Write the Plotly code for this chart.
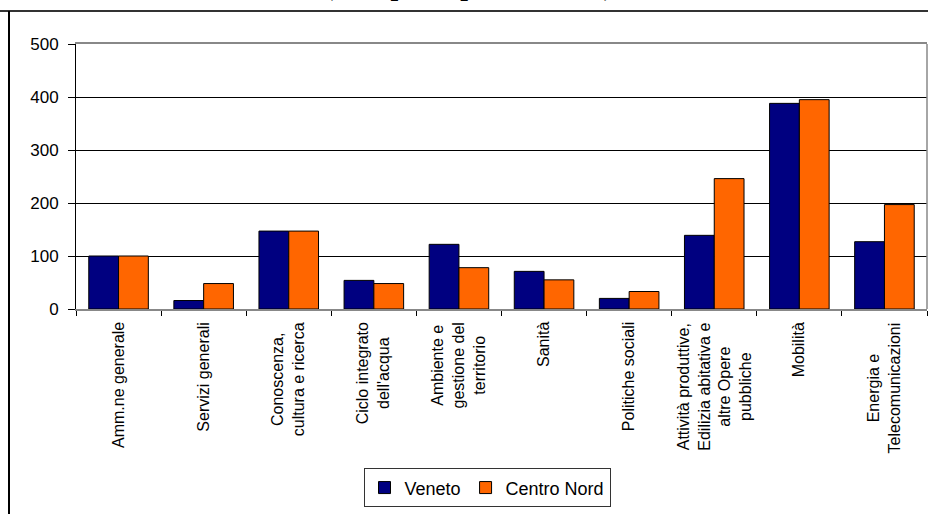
import plotly.graph_objects as go

# Spending categories (keys) and their wrapped axis labels
categories = ["Amm.ne generale", "Servizi generali", "Conoscenza", "Ciclo idrico",
              "Ambiente", "Sanità", "Politiche sociali", "Attività produttive",
              "Mobilità", "Energia"]
category_labels = ["Amm.ne generale", "Servizi generali",
                   "Conoscenza,<br>cultura e ricerca",
                   "Ciclo integrato<br>dell'acqua",
                   "Ambiente e<br>gestione del<br>territorio",
                   "Sanità", "Politiche sociali",
                   "Attività produttive,<br>Edilizia abitativa e<br>altre Opere<br>pubbliche",
                   "Mobilità", "Energia e<br>Telecomunicazioni"]

veneto = [100, 16, 147, 54, 122, 71, 20, 139, 388, 127]
centro_nord = [100, 48, 147, 48, 78, 55, 33, 246, 395, 197]

y_ticks = [0, 100, 200, 300, 400, 500]

title_text = "(euro pro capite in media)"

W, H = 928, 514
L, R, T, B = 76, 1, 44, 204.5
pw, ph = W - L - R, H - T - B


def px_x(x):
    return (x - L) / pw


def px_y(y):
    return 1 + (T - y) / ph


fig = go.Figure()
fig.add_bar(name="Veneto", x=categories, y=veneto,
            marker=dict(color="#000080", line=dict(color="black", width=1)))
fig.add_bar(name="Centro Nord", x=categories, y=centro_nord,
            marker=dict(color="#FF6600", line=dict(color="black", width=1)))

annotations = []
for key, lab in zip(categories, category_labels):
    annotations.append(dict(
        x=key, xref="x", y=px_y(321), yref="paper",
        text=lab, textangle=-90, showarrow=False,
        xanchor="center", yanchor="top", align="center",
        font=dict(family="Arial, Liberation Sans", size=16, color="black")))

# bold italic heading, running off the top of the page
annotations.append(dict(
    x=px_x(470), xref="paper", y=px_y(3), yref="paper",
    text="<b><i>" + title_text + "</i></b>", showarrow=False,
    xanchor="center", yanchor="bottom",
    font=dict(family="Liberation Serif, Times New Roman", size=27, color="black"),
))

shapes = [
    # rule across the top of the page
    dict(type="line", xref="paper", yref="paper",
         x0=px_x(0), x1=px_x(W), y0=px_y(11), y1=px_y(11),
         line=dict(color="#333333", width=2)),
    # left frame of the chart object
    dict(type="line", xref="paper", yref="paper",
         x0=px_x(9), x1=px_x(9), y0=px_y(11), y1=px_y(H + 5),
         line=dict(color="black", width=2)),
    # right edge of the plot area
    dict(type="line", xref="paper", yref="paper",
         x0=1, x1=1, y0=0, y1=1,
         line=dict(color="#888888", width=1.5)),
]

fig.update_layout(
    width=W, height=H,
    margin=dict(l=L, r=R, t=T, b=B, pad=0),
    paper_bgcolor="white", plot_bgcolor="white",
    barmode="group", bargap=0.3, bargroupgap=0,
    font=dict(family="Arial, Liberation Sans", size=16, color="black"),
    showlegend=True,
    legend=dict(orientation="h", x=px_x(487), y=px_y(488.7),
                xanchor="center", yanchor="middle",
                bordercolor="#333333", borderwidth=1,
                font=dict(size=18), bgcolor="white",
                itemclick=False),
    annotations=annotations,
    shapes=shapes,
)

fig.update_xaxes(
    type="category", showticklabels=False, tickson="boundaries",
    ticks="outside", ticklen=5, tickcolor="black",
    showline=True, linecolor="#888888", linewidth=1.5, mirror=True,
    showgrid=False,
)
fig.update_yaxes(
    range=[0, 500], tickvals=y_ticks, ticks="outside", ticklen=7,
    tickcolor="black", showline=True, linecolor="black", linewidth=1,
    showgrid=True, gridcolor="black", gridwidth=1, zeroline=False,
    tickfont=dict(size=17), ticklabelstandoff=6,
)

fig.write_html("out.html")
